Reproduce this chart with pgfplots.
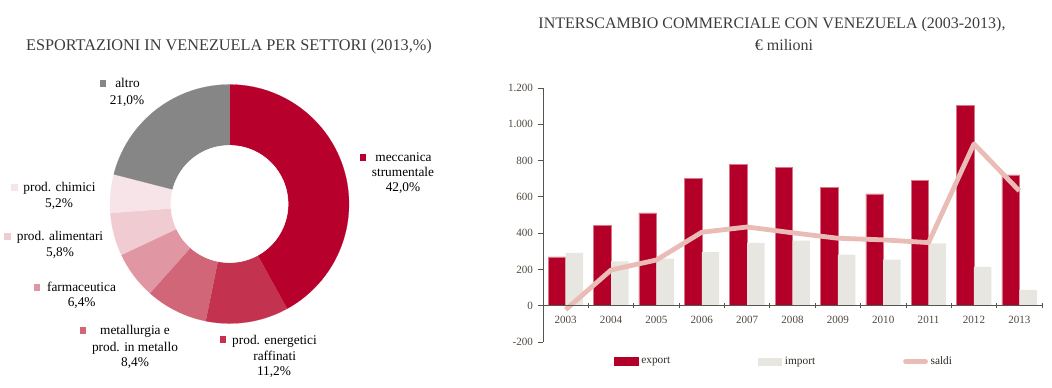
\documentclass[border=0pt]{standalone}
\usepackage{fontspec}
\setmainfont{Liberation Serif}
\usepackage{pgfplots}
\pgfplotsset{compat=1.18}
\usepackage{pgfplotstable}

\definecolor{cMec}{RGB}{184,0,44}
\definecolor{cEne}{RGB}{195,51,79}
\definecolor{cMet}{RGB}{210,102,121}
\definecolor{cFar}{RGB}{225,150,163}
\definecolor{cAli}{RGB}{240,204,210}
\definecolor{cChi}{RGB}{247,228,232}
\definecolor{cAlt}{RGB}{134,134,134}
\definecolor{cExp}{RGB}{180,0,40}
\definecolor{cExpEdge}{RGB}{215,120,135}
\definecolor{cImp}{RGB}{232,230,225}
\definecolor{cSal}{RGB}{233,189,181}
\definecolor{titlegray}{RGB}{60,60,60}
\definecolor{tickgray}{RGB}{80,72,62}
\definecolor{axisgray}{RGB}{85,85,80}

% export shares by sector (2013, %)
\def\pMec{42.0}
\def\pEne{11.2}
\def\pMet{8.4}
\def\pFar{6.4}
\def\pAli{5.8}
\def\pChi{5.2}
\def\pAlt{21.0}
\pgfmathsetmacro\aA{90}
\pgfmathsetmacro\aB{\aA-3.6*\pMec}
\pgfmathsetmacro\aC{\aB-3.6*\pEne}
\pgfmathsetmacro\aD{\aC-3.6*\pMet}
\pgfmathsetmacro\aE{\aD-3.6*\pFar}
\pgfmathsetmacro\aF{\aE-3.6*\pAli}
\pgfmathsetmacro\aG{\aF-3.6*\pChi}
\pgfmathsetmacro\aH{\aG-3.6*\pAlt}

\pgfplotstableread{
x export import saldi
0 269 291 -22
1 442 245 197
2 512 260 252
3 700 295 405
4 780 346 434
5 761 359 402
6 654 282 372
7 617 254 363
8 691 343 348
9 1106 214 892
10 721 88 633
}\tradetable

\newcommand\sq[1]{\textcolor{#1}{\rule{5.2pt}{5.2pt}}}

\begin{document}
\begin{tikzpicture}
\path[use as bounding box] (0pt,0pt) rectangle (789pt,-290.25pt);

% ---------------- donut ----------------
\begin{axis}[at={(172.125pt,-153pt)}, anchor=center, scale only axis,
  width=179.25pt, height=179.25pt, xmin=-1, xmax=1, ymin=-1, ymax=1,
  hide axis, clip=false]
\addplot[fill=cMec, draw=cMec, line width=0.1pt, domain=\aB:\aA, samples=100, variable=\t] ({cos(\t)},{sin(\t)}) -- (axis cs:0,0) -- cycle;
\addplot[fill=cEne, draw=cEne, line width=0.1pt, domain=\aC:\aB, samples=40, variable=\t] ({cos(\t)},{sin(\t)}) -- (axis cs:0,0) -- cycle;
\addplot[fill=cMet, draw=cMet, line width=0.1pt, domain=\aD:\aC, samples=40, variable=\t] ({cos(\t)},{sin(\t)}) -- (axis cs:0,0) -- cycle;
\addplot[fill=cFar, draw=cFar, line width=0.1pt, domain=\aE:\aD, samples=40, variable=\t] ({cos(\t)},{sin(\t)}) -- (axis cs:0,0) -- cycle;
\addplot[fill=cAli, draw=cAli, line width=0.1pt, domain=\aF:\aE, samples=40, variable=\t] ({cos(\t)},{sin(\t)}) -- (axis cs:0,0) -- cycle;
\addplot[fill=cChi, draw=cChi, line width=0.1pt, domain=\aG:\aF, samples=40, variable=\t] ({cos(\t)},{sin(\t)}) -- (axis cs:0,0) -- cycle;
\addplot[fill=cAlt, draw=cAlt, line width=0.1pt, domain=\aH:\aG, samples=60, variable=\t] ({cos(\t)},{sin(\t)}) -- (axis cs:0,0) -- cycle;
\addplot[fill=white, draw=white, domain=0:360, samples=120, variable=\t] ({0.49*cos(\t)},{0.49*sin(\t)}) -- cycle;
\end{axis}

% ---------------- bars ----------------
\begin{axis}[at={(407.25pt,-256.5pt)}, anchor=south west, scale only axis,
  width=374.25pt, height=190.5pt,
  xmin=-0.5, xmax=10.5, ymin=-200, ymax=1200,
  axis x line=middle, axis y line=left,
  axis line style={-, draw=axisgray, line width=0.6pt},
  every tick/.style={draw=axisgray, line width=0.6pt},
  major tick length=4pt,
  hide obscured x ticks=false, hide obscured y ticks=false,
  axis on top,
  xtick={-0.5,0.5,1.5,2.5,3.5,4.5,5.5,6.5,7.5,8.5,9.5,10.5},
  x tick label as interval,
  xticklabels={2003,2004,2005,2006,2007,2008,2009,2010,2011,2012,2013},
  xtick align=center, ytick align=outside,
  ytick={-200,0,200,400,600,800,1000,1200},
  /pgf/number format/assume math mode=true,
  /pgf/number format/1000 sep={.},
  tick label style={font=\fontsize{8.3}{10}\selectfont, text=tickgray},
  x tick label style={yshift=-2pt},
  legend style={at={(0.142,-0.077)}, anchor=west, draw=none, fill=none,
    inner sep=0pt, font=\fontsize{8.5}{10}\selectfont, text=tickgray!60!black,
    /tikz/every even column/.append style={column sep=64pt}},
  legend columns=3, legend cell align=left,
  clip=false]
\addplot[ybar, bar width=13.1pt, bar shift=-6.55pt, fill=cExp, draw=cExpEdge, line width=0.4pt,
  legend image code/.code={\fill[cExp] (0pt,-3pt) rectangle (18pt,3pt);}]
  table[x=x,y=export]{\tradetable};
\addlegendentry{export}
\addplot[ybar, bar width=13.1pt, bar shift=6.55pt, fill=cImp, draw=none,
  legend image code/.code={\fill[cImp] (0pt,-3pt) rectangle (18pt,3pt);}]
  table[x=x,y=import]{\tradetable};
\addlegendentry{import}
\addplot[sharp plot, no markers, draw=cSal, line width=3.6pt, line join=round,
  legend image code/.code={\draw[cSal, line width=3.6pt, line cap=round] (1.5pt,0pt) -- (16.5pt,0pt);}]
  table[x=x,y=saldi]{\tradetable};
\addlegendentry{saldi}
\end{axis}

% ---------------- texts ----------------
\begin{scope}[x=0.75pt, y=-0.75pt]
\node[font=\fontsize{12.2}{14}\selectfont, text=titlegray, anchor=base] at (229,50) {ESPORTAZIONI IN VENEZUELA PER SETTORI (2013,\%)};
\node[font=\fontsize{12}{14}\selectfont, text=titlegray, anchor=base] at (772,28) {INTERSCAMBIO COMMERCIALE CON VENEZUELA (2003-2013),};
\node[font=\fontsize{12}{14}\selectfont, text=titlegray, anchor=base] at (784,50) {€ milioni};

\begin{scope}[every node/.style={font=\fontsize{10}{12}\selectfont, text=black, anchor=base, inner sep=0pt}]
% altro
\node at (103,86.5) {\sq{cAlt}};
\node at (127.5,87) {altro};
\node at (127,104) {21,0\%};
% chimici
\node at (14.5,190.5) {\sq{cChi}};
\node at (59.5,191) {prod. chimici};
\node at (59,207) {5,2\%};
% alimentari
\node at (7.5,239.5) {\sq{cAli}};
\node at (60,240) {prod. alimentari};
\node at (60,256) {5,8\%};
% farmaceutica
\node at (37,290.5) {\sq{cFar}};
\node at (81.5,291) {farmaceutica};
\node at (81.7,306) {6,4\%};
% metallurgia
\node at (83,333.5) {\sq{cMet}};
\node at (135,334) {metallurgia e};
\node at (135,351) {prod. in metallo};
\node at (135,366) {8,4\%};
% energetici
\node at (223,342.5) {\sq{cEne}};
\node at (274.5,344) {prod. energetici};
\node at (274.7,360) {raffinati};
\node at (274,375) {11,2\%};
% meccanica
\node at (363,160.5) {\sq{cMec}};
\node at (403.5,161) {meccanica};
\node at (403,176) {strumentale};
\node at (403,191) {42,0\%};
\end{scope}
\end{scope}
\end{tikzpicture}
\end{document}
